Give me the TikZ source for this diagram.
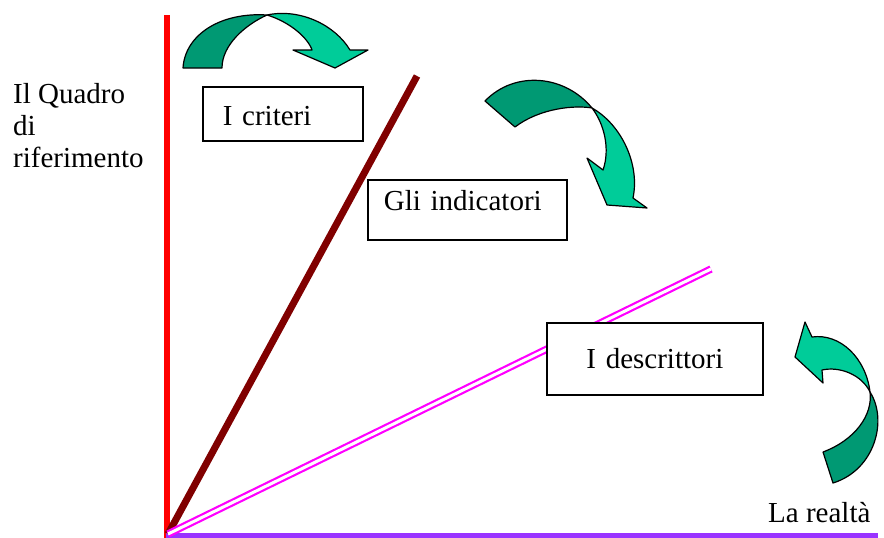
\documentclass[tikz,border=0pt]{standalone}
\usepackage{fontspec}
\setmainfont{Liberation Serif}
\definecolor{viola}{RGB}{153,51,255}
\definecolor{bordeaux}{RGB}{128,0,0}
\definecolor{fucsia}{RGB}{255,0,255}
\definecolor{verdescuro}{RGB}{0,153,115}
\definecolor{verdechiaro}{RGB}{0,204,153}
\begin{document}
\begin{tikzpicture}[x=1pt,y=-1pt]

	%DEFINIZIONI
	\tikzstyle{every node}=[font=\fontsize{29}{32}\selectfont]
	\tikzstyle{riquadro} = [draw, fill=white, line width=1.8pt, inner ysep=0pt, anchor=north west]
	\tikzstyle{testo} = [inner sep=0pt, align=left]
	\tikzstyle{asse} = [line width=6pt]
	\tikzstyle{freccia} = [draw=black, line width=1.2pt, line join=round]

	\useasboundingbox (0,0) rectangle (884,538);

	%PUNTI
	\coordinate (O) at (168,534);
	\coordinate (rossoA) at (166.5,15);
	\coordinate (rossoB) at (166.5,538);
	\coordinate (violaA) at (166,535.5);
	\coordinate (violaB) at (878,535.5);
	\coordinate (bordeauxA) at (417,76);
	\coordinate (fucsiaA) at (711,269);

	%LINEE
	\draw[asse, red] (rossoB) -- (rossoA);
	\draw[asse, viola] (violaA) -- (violaB);
	\draw[asse, line width=7pt, bordeaux] (O) -- (bordeauxA);
	\draw[fucsia, line width=2.2pt, double=white, double distance=3pt] (O) -- (fucsiaA);

	%RIQUADRI
	\draw(202,86) node[riquadro, text width=120pt, inner xsep=20pt, text height=39pt, text depth=15pt, align=left](criteri){I criteri};
	\draw(367,179) node[riquadro, text width=167pt, inner xsep=16pt, text height=31pt, text depth=29pt, align=left](indicatori){Gli indicatori};
	\draw(546,322) node[riquadro, text width=216pt, inner xsep=0pt, text height=46pt, text depth=26pt, align=center](descrittori){I descrittori};

	%TESTI
	\draw(13,83) node[testo, anchor=north west](quadro){Il Quadro\\di\\riferimento};
	\draw(768,522) node[testo, anchor=base west](realta){La realtà};

	%FRECCE
	\draw[freccia, fill=verdescuro] (183,68) .. controls (185,35) and (220,12) .. (267,15) .. controls (245,25) and (222,45) .. (222,68) -- cycle;
	\draw[freccia, fill=verdechiaro] (267,15) .. controls (300,8) and (335,25) .. (350,50) -- (368,50) -- (335,68) -- (293,50) -- (312,50) .. controls (308,38) and (290,22) .. (267,15) -- cycle;

	\draw[freccia, fill=verdescuro] (485,101) .. controls (515,70) and (565,75) .. (592,108) .. controls (575,105) and (540,108) .. (515,127) -- cycle;
	\draw[freccia, fill=verdechiaro] (592,108) .. controls (622,125) and (640,165) .. (633,198) -- (647,208) -- (607,205) -- (587,158) -- (603,170) .. controls (610,150) and (605,125) .. (592,108) -- cycle;

	\draw[freccia, fill=verdechiaro] (870,392) .. controls (866,358) and (840,333) .. (812,337) -- (805,322) -- (795,357) -- (823,383) -- (822,370) .. controls (840,366) and (862,375) .. (870,392) -- cycle;
	\draw[freccia, fill=verdescuro] (833,483) .. controls (875,470) and (888,420) .. (870,392) .. controls (873,415) and (855,440) .. (823,452) -- cycle;
\end{tikzpicture}
\end{document}
